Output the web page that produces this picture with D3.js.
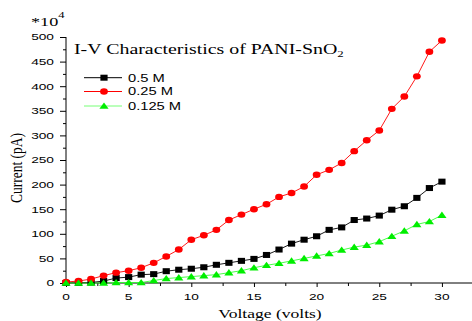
<!DOCTYPE html>
<html>
<head>
<meta charset="utf-8">
<script src="https://cdnjs.cloudflare.com/ajax/libs/d3/7.8.5/d3.min.js"></script>
<style>
  html, body { margin: 0; padding: 0; background: #fff; }
  svg { display: block; }
</style>
</head>
<body>
<svg id="chart" width="472" height="321"></svg>
<script>
// Bias voltage (V)
const voltage = [0, 1, 2, 3, 4, 5, 6, 7, 8, 9, 10, 11, 12, 13, 14, 15,
                 16, 17, 18, 19, 20, 21, 22, 23, 24, 25, 26, 27, 28, 29, 30];
// Current (pA, ×10^4) for each SnO2 concentration
const current05 = [0, 0.5, 1, 4, 10, 12, 17, 18, 24, 27, 29, 32, 37, 41, 45, 49,
                   57, 68, 80, 88, 95, 108, 113, 128, 131, 137, 149, 156, 173, 193, 206];
const current025 = [2, 4, 8, 15, 21, 25, 31, 41, 54, 68, 88, 97, 108, 128, 139, 150,
                    160, 175, 183, 196, 220, 230, 244, 268, 290, 310, 354, 379, 420, 470, 493];
const current0125 = [0, 0, 0, 0, 1, 1, 1, 5, 9, 11, 13, 15, 17, 21, 25, 31,
                     36, 40, 45, 50, 55, 60, 67, 73, 77, 84, 95, 106, 119, 125, 138];
const seriesNames = ["0.5 M", "0.25 M", "0.125 M"];
const xTicks = [0, 5, 10, 15, 20, 25, 30];
const yTicks = [0, 50, 100, 150, 200, 250, 300, 350, 400, 450, 500];

const series = [
  { name: seriesNames[0], values: current05,   color: "#000000", line: "#000000", shape: "square" },
  { name: seriesNames[1], values: current025,  color: "#ff0000", line: "#ff0000", shape: "circle" },
  { name: seriesNames[2], values: current0125, color: "#00ee00", line: "#33ff33", shape: "triangle" }
];

const SX = 1.4;   // horizontal stretch applied to the lettering
const svg = d3.select("#chart");

const x = d3.scaleLinear().domain([0, 32.4]).range([66, 472]);
const y = d3.scaleLinear().domain([0, 500]).range([283, 37]);

// --- axes ---
const gx = svg.append("g").attr("transform", "translate(0,283)");
gx.call(d3.axisBottom(x).tickValues(d3.range(0, 32.5, 2.5)).tickSize(3).tickFormat(""));
gx.call(g => g.select(".domain").attr("d", "M66,0H472"));
gx.selectAll(".tick line").attr("stroke", "#000").attr("y2", d => (d % 5 === 0 ? 4 : 3));
xTicks.forEach(v => {
  gx.append("text")
    .attr("transform", `translate(${x(v)},17) scale(${SX},1)`)
    .attr("text-anchor", "middle")
    .style("font", "9.8px 'Liberation Sans', Arial, sans-serif")
    .attr("fill", "#000")
    .text(v);
});

const gy = svg.append("g").attr("transform", "translate(66,0)");
gy.call(d3.axisLeft(y).tickValues(d3.range(0, 501, 25)).tickSize(3).tickFormat(""));
gy.call(g => g.select(".domain").attr("d", "M0,283V37"));
gy.selectAll(".tick line").attr("stroke", "#000").attr("x2", d => (d % 50 === 0 ? -6 : -3));
yTicks.forEach(v => {
  gy.append("text")
    .attr("transform", `translate(-12,${y(v) + 3.4}) scale(${SX},1)`)
    .attr("text-anchor", "end")
    .style("font", "9.8px 'Liberation Sans', Arial, sans-serif")
    .attr("fill", "#000")
    .text(v);
});
svg.selectAll(".domain").attr("stroke", "#000").attr("stroke-width", 1);

// multiplier above the y axis
const mult = svg.append("text")
  .attr("transform", `translate(31,26) scale(${SX},1)`)
  .style("font", "13px 'Liberation Serif', 'Times New Roman', serif")
  .attr("fill", "#000");
mult.append("tspan").text("*10");
mult.append("tspan").attr("dy", -8).style("font-size", "9px").text("4");

// axis titles
svg.append("text")
  .attr("transform", `translate(270,318) scale(1.3,1)`)
  .attr("text-anchor", "middle")
  .style("font", "13.5px 'Liberation Serif', 'Times New Roman', serif")
  .attr("fill", "#000")
  .text("Voltage (volts)");
svg.append("text")
  .attr("transform", `translate(22,168) scale(1.3,1) rotate(-90)`)
  .attr("text-anchor", "middle")
  .style("font", "13.5px 'Liberation Serif', 'Times New Roman', serif")
  .attr("fill", "#000")
  .text("Current (pA)");

// chart title
const title = svg.append("text")
  .attr("transform", `translate(74,54) scale(1.42,1)`)
  .style("font", "14px 'Liberation Serif', 'Times New Roman', serif")
  .attr("fill", "#000");
title.append("tspan").text("I-V Characteristics of PANI-SnO");
title.append("tspan").attr("dy", 3).style("font-size", "9px").text("2");

// marker drawing
function drawMarker(g, shape, cx, cy, color) {
  if (shape === "square") {
    g.append("rect").attr("x", cx - 3.6).attr("y", cy - 3).attr("width", 7.2).attr("height", 6)
      .attr("fill", color);
  } else if (shape === "circle") {
    g.append("ellipse").attr("cx", cx).attr("cy", cy).attr("rx", 3.9).attr("ry", 3.2)
      .attr("fill", color);
  } else {
    g.append("path")
      .attr("d", `M${cx - 4.6},${cy + 2.8}L${cx + 4.6},${cy + 2.8}L${cx},${cy - 3.6}Z`)
      .attr("fill", color);
  }
}

// data lines and markers
const line = d3.line().x((d, i) => x(voltage[i])).y(d => y(d));
series.forEach(s => {
  svg.append("path")
    .datum(s.values)
    .attr("d", line)
    .attr("fill", "none")
    .attr("stroke", s.line)
    .attr("stroke-width", 0.9);
});
series.forEach(s => {
  const g = svg.append("g");
  s.values.forEach((v, i) => drawMarker(g, s.shape, x(voltage[i]), y(v), s.color));
});

// legend
const legendY = [77.7, 91.5, 106];
series.forEach((s, i) => {
  const g = svg.append("g");
  g.append("line").attr("x1", 84).attr("x2", 122).attr("y1", legendY[i]).attr("y2", legendY[i])
    .attr("stroke", i === 2 ? "#77ff77" : s.line).attr("stroke-width", 1);
  drawMarker(g, s.shape, 104, legendY[i], s.color);
  g.append("text")
    .attr("transform", `translate(128,${legendY[i] + 3.8}) scale(${SX},1)`)
    .style("font", "10.5px 'Liberation Sans', Arial, sans-serif")
    .attr("fill", "#000")
    .text(s.name);
});
</script>
</body>
</html>
